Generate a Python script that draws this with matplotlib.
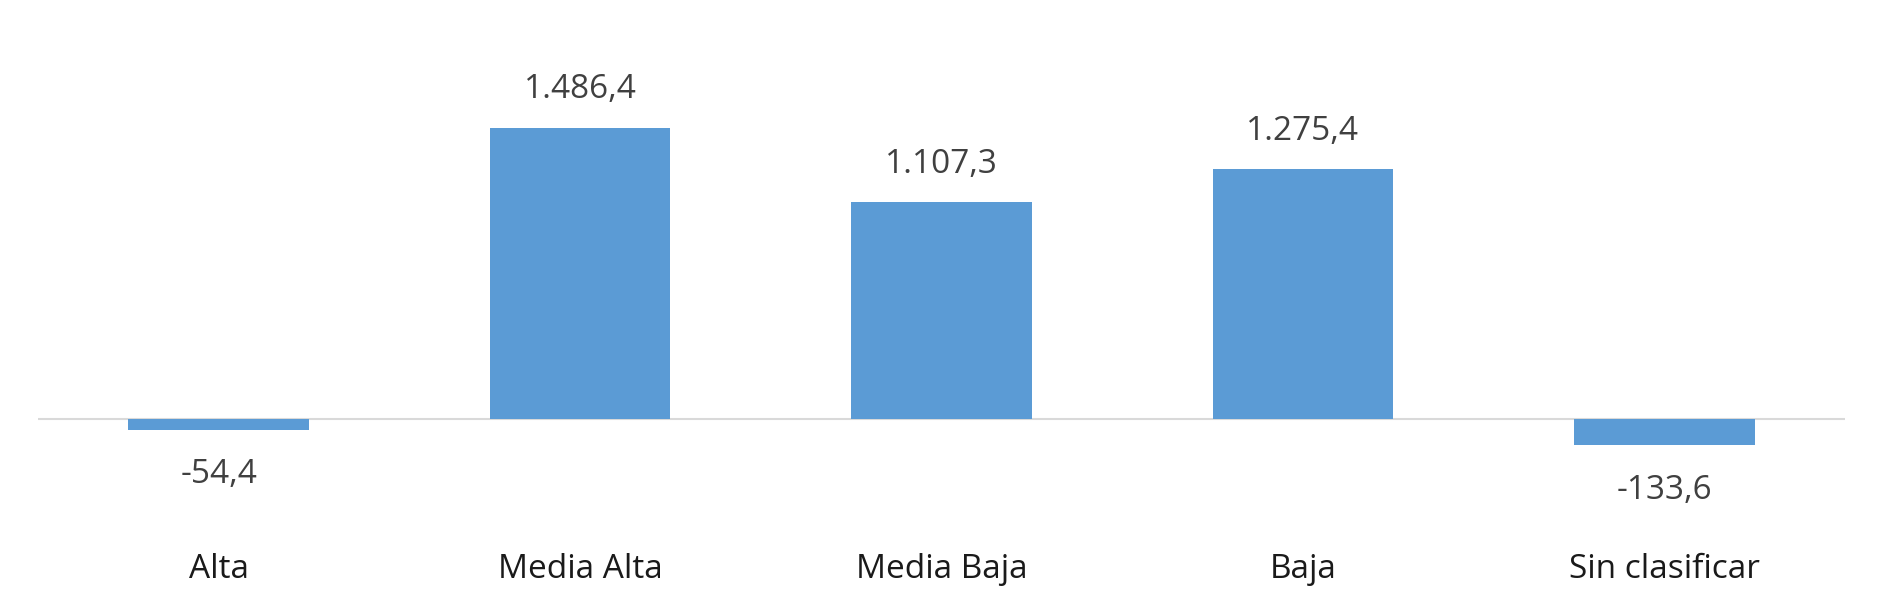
import matplotlib
matplotlib.use("Agg")
import matplotlib.pyplot as plt

categories = ["Alta", "Media Alta", "Media Baja", "Baja", "Sin clasificar"]
values = [-54.4, 1486.4, 1107.3, 1275.4, -133.6]
value_labels = ["-54,4", "1.486,4", "1.107,3", "1.275,4", "-133,6"]

plt.rcParams['font.family'] = ['Open Sans', 'DejaVu Sans']

W, H = 1900, 593
fig = plt.figure(figsize=(W / 100, H / 100), dpi=100)
top_px, bot_px, zero_px = 20, 480, 419
scale = 291 / 1486.4  # px per unit
ymax = (zero_px - top_px) / scale
ymin = -(bot_px - zero_px) / scale
ax = fig.add_axes([38 / W, 1 - bot_px / H, 1807 / W, (bot_px - top_px) / H])
x = list(range(len(categories)))
ax.bar(x, values, width=0.5, color="#5B9BD5", zorder=2)
ax.set_xlim(-0.5, len(categories) - 0.5)
ax.set_ylim(ymin, ymax)
ax.axhline(0, color="#D9D9D9", lw=1.5, zorder=1)
for s in ax.spines.values():
    s.set_visible(False)
ax.set_xticks([])
ax.set_yticks([])

off = 38 / scale
for xi, v, lab in zip(x, values, value_labels):
    if v >= 0:
        ax.text(xi, v + off, lab, ha="center", va="center", fontsize=24, color="#404040")
    else:
        ax.text(xi, v - off - 7 / scale, lab, ha="center", va="center", fontsize=24, color="#404040")

cat_y = -(569 - zero_px) / scale
for xi, c in zip(x, categories):
    ax.text(xi, cat_y, c, ha="center", va="center", fontsize=24, color="#1a1a1a", clip_on=False)

fig.savefig("out.png", dpi=100)
